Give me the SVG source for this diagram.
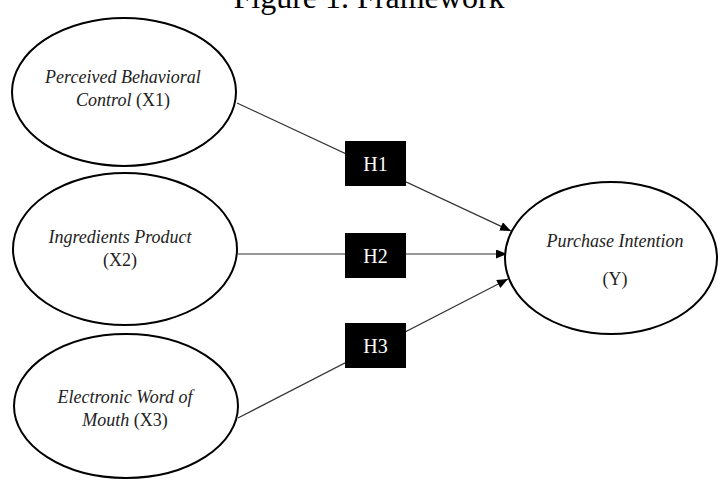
<svg xmlns="http://www.w3.org/2000/svg" width="718" height="482" viewBox="0 0 718 482">
<style>
.node ellipse{fill:#fff;stroke:#000;stroke-width:2}
.lbl{font-family:"Liberation Serif","Times New Roman",serif;font-size:18px;fill:#222;text-anchor:middle}
.it{font-style:italic}
.conn line{stroke:#333;stroke-width:1.2;marker-end:url(#arr)}
.hbox rect{fill:#000}
.hbox text{font-family:"Liberation Serif","Times New Roman",serif;font-size:20px;fill:#fff;text-anchor:middle}
.title{font-family:"Liberation Serif","Times New Roman",serif;font-size:32px;fill:#000;text-anchor:middle}
</style>
<defs>
<marker id="arr" markerUnits="userSpaceOnUse" markerWidth="12" markerHeight="10" refX="11" refY="4.5" orient="auto">
<path d="M0,0 L11,4.5 L0,9 z" fill="#000"/>
</marker>
</defs>
<rect width="718" height="482" fill="#fff"/>
<text class="title" x="369" y="8">Figure 1. Framework</text>
<g class="conn">
<line x1="237" y1="103" x2="511" y2="231"/>
<line x1="238" y1="254" x2="507" y2="254"/>
<line x1="238" y1="418" x2="508" y2="279"/>
</g>
<g id="x1" class="node">
<ellipse cx="124" cy="92" rx="112" ry="74"/>
<text class="lbl" x="123" y="83"><tspan class="it">Perceived Behavioral</tspan></text>
<text class="lbl" x="123" y="106"><tspan class="it">Control</tspan> (X1)</text>
</g>
<g id="x2" class="node">
<ellipse cx="125" cy="249" rx="112" ry="76"/>
<text class="lbl it" x="120" y="243">Ingredients Product</text>
<text class="lbl" x="120" y="266">(X2)</text>
</g>
<g id="x3" class="node">
<ellipse cx="126" cy="406" rx="112" ry="72"/>
<text class="lbl" x="125" y="403"><tspan class="it">Electronic Word of</tspan></text>
<text class="lbl" x="125" y="426"><tspan class="it">Mouth</tspan> (X3)</text>
</g>
<g id="y" class="node">
<ellipse cx="611" cy="258" rx="106" ry="76"/>
<text class="lbl it" x="615" y="247">Purchase Intention</text>
<text class="lbl" x="615" y="285">(Y)</text>
</g>
<g id="h1" class="hbox">
<rect x="345" y="141" width="61" height="45"/>
<text x="375.5" y="171">H1</text>
</g>
<g id="h2" class="hbox">
<rect x="345" y="233" width="61" height="45"/>
<text x="375.5" y="263">H2</text>
</g>
<g id="h3" class="hbox">
<rect x="345" y="323" width="61" height="45"/>
<text x="375.5" y="353">H3</text>
</g>
</svg>
